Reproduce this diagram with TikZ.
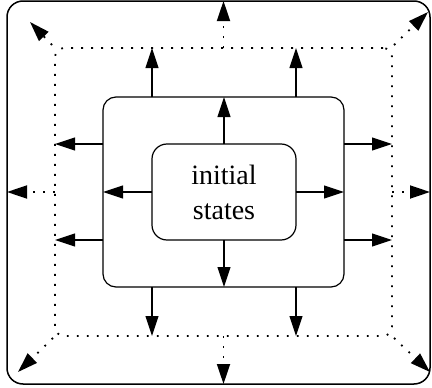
\documentclass[tikz,border=0pt]{standalone}
\usepackage{fontspec}
\setmainfont{Liberation Serif}
\usetikzlibrary{arrows.meta}

\tikzset{
  box/.style={draw, rectangle, outer sep=0pt, inner sep=0pt, line width=1.2pt},
  arr/.style={line width=1.2pt, -{Triangle[length=20pt,width=13pt]}},
  dotarr/.style={line width=1.8pt, dash pattern=on 1.8pt off 8.2pt, -{Triangle[length=20pt,width=13pt]}},
}

\begin{document}
\begin{tikzpicture}[x=1pt,y=-1pt]
\useasboundingbox (0,0) rectangle (432,388);
\node[box, line width=1.5pt, rounded corners=16pt, minimum width=423pt, minimum height=383pt] (outer) at (218.5,192.5) {};
\node[box, line width=1.8pt, dash pattern=on 1.8pt off 8.2pt, rounded corners=9pt, minimum width=337pt, minimum height=288pt] (reach) at (223.5,192) {};
\node[box, rounded corners=13pt, minimum width=241pt, minimum height=190pt] (step) at (223.5,192) {};
\node[box, rounded corners=15pt, minimum width=144pt, minimum height=96pt, align=center, font=\fontsize{28}{35}\selectfont] (init) at (224,192) {initial\\states};

\draw[arr] (init.north) -- (init.north |- step.north);
\draw[arr] (init.south) -- (init.south |- step.south);
\draw[arr] (init.west) -- (init.west -| step.west);
\draw[arr] (init.east) -- (init.east -| step.east);

\draw[arr] (step.north -| init.west) -- (reach.north -| init.west);
\draw[arr] (step.north -| init.east) -- (reach.north -| init.east);
\draw[arr] (step.south -| init.west) -- (reach.south -| init.west);
\draw[arr] (step.south -| init.east) -- (reach.south -| init.east);
\draw[arr] (step.west |- init.north) -- (reach.west |- init.north);
\draw[arr] (step.west |- init.south) -- (reach.west |- init.south);
\draw[arr] (step.east |- init.north) -- (reach.east |- init.north);
\draw[arr] (step.east |- init.south) -- (reach.east |- init.south);

\draw[dotarr] (reach.north) -- (reach.north |- outer.north);
\draw[dotarr] (reach.south) -- (reach.south |- outer.south);
\draw[dotarr] (reach.west) -- (reach.west -| outer.west);
\draw[dotarr] (reach.east) -- (reach.east -| outer.east);

\coordinate (tl) at (30,22);
\coordinate (tr) at (428,12);
\coordinate (bl) at (18,372);
\coordinate (br) at (430,372);
\draw[dotarr] (reach.north west) ++(-3,-3) -- (tl);
\draw[dotarr] (reach.north east) ++(2,-3) -- (tr);
\draw[dotarr] (reach.south west) ++(-2,2) -- (bl);
\draw[dotarr] (reach.south east) ++(2,2) -- (br);
\end{tikzpicture}
\end{document}
